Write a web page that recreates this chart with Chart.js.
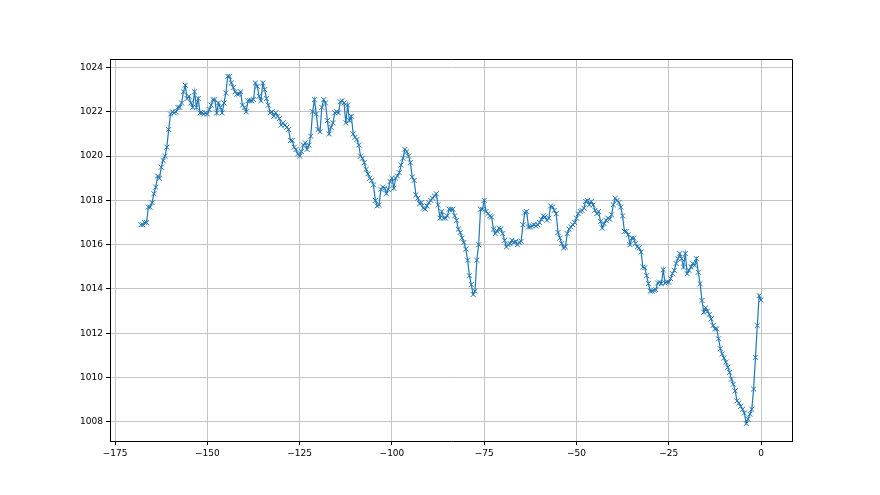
<!DOCTYPE html>
<html>
<head>
<meta charset="utf-8">
<script src="https://cdn.jsdelivr.net/npm/chart.js@4.4.1/dist/chart.umd.min.js"></script>
<style>
	html, body { margin: 0; padding: 0; background: #fff; }
	canvas { display: block; }
</style>
</head>
<body>
<canvas id="chartPressure" width="880" height="495"></canvas>
<script>
'use strict'

// readings every half hour, over the last 168 hours
const firstHour = -168
const hourStep = 0.5

const pressure = [
	1016.9, 1016.9, 1017.0, 1017.0, 1017.7, 1017.7, 1017.9, 1018.3, 1018.6, 1019.1,
	1019.0, 1019.5, 1019.8, 1020.0, 1020.4, 1021.2, 1021.9, 1022.0, 1021.95, 1022.0,
	1022.2, 1022.2, 1022.4, 1022.9, 1023.2, 1022.6, 1022.7, 1022.4, 1022.2, 1022.9,
	1022.2, 1022.6, 1021.95, 1021.95, 1021.9, 1021.95, 1021.9, 1022.1, 1022.3, 1022.55,
	1022.55, 1021.95, 1022.4, 1022.2, 1021.95, 1022.4, 1022.85, 1023.6, 1023.6, 1023.3,
	1023.1, 1022.9, 1022.8, 1022.8, 1022.9, 1022.3, 1022.2, 1022.0, 1022.5, 1022.5,
	1022.5, 1022.55, 1023.3, 1023.15, 1022.7,
	1022.5, 1023.3, 1023.0, 1022.6, 1022.3, 1021.95, 1022.0, 1021.8, 1021.95, 1021.8,
	1021.7, 1021.4, 1021.5, 1021.4, 1021.3, 1021.2, 1020.7, 1020.7, 1020.4, 1020.3,
	1020.1, 1020.0, 1020.2, 1020.5, 1020.6, 1020.3, 1020.5, 1020.9, 1022.0, 1022.55,
	1021.9, 1021.2, 1021.1, 1022.2, 1022.55, 1022.4, 1021.6, 1021.0, 1021.3, 1021.5,
	1021.95, 1022.0, 1021.95, 1022.45, 1022.5, 1022.4, 1021.5, 1022.3, 1021.6, 1021.8,
	1021.0, 1020.85, 1020.75, 1020.5, 1020.0, 1019.9, 1019.7, 1019.4, 1019.2, 1019.0,
	1018.9, 1018.7, 1018.0, 1017.75, 1017.8, 1018.5, 1018.6, 1018.55, 1018.3, 1018.5,
	1018.85, 1019.0, 1018.55, 1019.0, 1019.1, 1019.25, 1019.6, 1019.9, 1020.3, 1020.2,
	1020.0, 1019.7, 1019.05, 1018.9, 1018.25, 1018.1, 1017.85, 1017.9, 1017.65, 1017.6,
	1017.75, 1017.9, 1018.0, 1018.1, 1018.2, 1018.3, 1017.8, 1017.2, 1017.5, 1017.2,
	1017.2, 1017.3, 1017.6, 1017.6, 1017.6, 1017.3, 1017.1, 1016.7, 1016.55, 1016.3,
	1016.1, 1015.8, 1015.3, 1014.6, 1014.2, 1013.75, 1013.9, 1015.3, 1016.0, 1017.6,
	1017.6, 1018.0, 1017.5, 1017.4, 1017.3, 1017.25, 1016.7, 1016.5, 1016.6, 1016.75,
	1016.7, 1016.5, 1016.2, 1015.9, 1016.0, 1016.05, 1016.2, 1016.1, 1016.15, 1016.0,
	1016.1, 1016.15, 1016.9, 1017.45, 1017.5, 1016.8, 1016.8, 1016.85, 1016.9, 1016.85,
	1016.9, 1017.0, 1017.15, 1017.3, 1017.25, 1017.1, 1017.2, 1017.75, 1017.7, 1017.55,
	1017.4, 1016.55, 1016.3, 1016.05, 1015.85, 1015.9, 1016.5, 1016.7, 1016.8, 1016.9,
	1017.0, 1017.2, 1017.4, 1017.5, 1017.55, 1017.65, 1017.95, 1018.0, 1017.8, 1017.95,
	1017.8, 1017.55, 1017.4, 1017.5, 1017.05, 1016.75, 1016.95, 1017.1, 1017.2, 1017.15,
	1017.35, 1017.8, 1018.1, 1018.0, 1017.9, 1017.7, 1017.3, 1016.6, 1016.6, 1016.45,
	1016.0, 1016.3, 1016.3, 1016.05, 1015.9, 1015.85,
	1015.67, 1014.99, 1014.96, 1014.6, 1014.24, 1013.9, 1013.9, 1013.94, 1013.97, 1014.27,
	1014.31, 1014.24, 1014.87, 1014.27, 1014.31, 1014.31, 1014.47, 1014.69, 1014.84, 1015.15,
	1015.37, 1015.6, 1015.37, 1014.99, 1015.6, 1014.69, 1014.84, 1014.99, 1015.15, 1015.07,
	1015.37, 1014.75, 1014.24,
	1013.48, 1012.95, 1013.15, 1013.0, 1012.85, 1012.65, 1012.35, 1012.2, 1012.2, 1011.75,
	1011.3, 1011.07, 1010.88, 1010.69, 1010.46, 1010.23, 1009.93, 1009.7, 1009.4, 1008.95,
	1008.85, 1008.7, 1008.57, 1008.4, 1007.92, 1008.12, 1008.35, 1008.57, 1009.48, 1010.91,
	1012.35, 1013.7, 1013.5,
]

const xTicks = [-175, -150, -125, -100, -75, -50, -25, 0]
const yTicks = [1008, 1010, 1012, 1014, 1016, 1018, 1020, 1022, 1024]

const hours = pressure.map((_, i) => firstHour + i * hourStep)
const points = hours.map((h, i) => ({ x: h, y: pressure[i] }))

// same 5% margins as matplotlib's autoscale
function padded(values) {
	const lo = Math.min(...values)
	const hi = Math.max(...values)
	const pad = (hi - lo) * 0.05
	return [lo - pad, hi + pad]
}
const [xMin, xMax] = padded(hours)
const [yMin, yMax] = padded(pressure)

// plain numbers with a real minus sign, no thousands separator
const tickLabel = (v) => String(v).replace('-', '\u2212')

Chart.defaults.font.family = 'DejaVu Sans'
Chart.defaults.font.size = 9
Chart.defaults.color = '#000'

// top and right spines
const frame = {
	id: 'frame',
	afterDraw(chart) {
		const { ctx, chartArea: a } = chart
		ctx.save()
		ctx.strokeStyle = '#000'
		ctx.lineWidth = 1
		ctx.beginPath()
		ctx.moveTo(Math.round(a.left), Math.round(a.top) + 0.5)
		ctx.lineTo(Math.round(a.right) + 0.5, Math.round(a.top) + 0.5)
		ctx.lineTo(Math.round(a.right) + 0.5, Math.round(a.bottom))
		ctx.stroke()
		ctx.restore()
	},
}

const gridStyle = {
	color: '#c4c4c4',
	lineWidth: 1,
	drawTicks: true,
	tickLength: 4,
	tickColor: '#000',
}

new Chart(document.getElementById('chartPressure'), {
	type: 'line',
	data: {
		datasets: [
			{
				data: points,
				borderColor: '#1f77b4',
				borderWidth: 1.2,
				pointStyle: 'crossRot',
				pointRadius: 3.5,
				pointBorderWidth: 1,
				pointBorderColor: '#1f77b4',
				pointBackgroundColor: '#1f77b4',
				tension: 0,
			},
		],
	},
	options: {
		responsive: false,
		animation: false,
		events: [],
		layout: {
			padding: { top: 59, right: 88, left: 0, bottom: 0 },
		},
		plugins: {
			legend: { display: false },
			tooltip: { enabled: false },
		},
		scales: {
			x: {
				type: 'linear',
				min: xMin,
				max: xMax,
				afterBuildTicks: (s) => { s.ticks = xTicks.map((v) => ({ value: v })) },
				afterFit: (s) => { s.height = 54 },
				grid: gridStyle,
				border: { color: '#000', width: 1 },
				ticks: { padding: 3, maxRotation: 0, autoSkip: false, callback: tickLabel },
			},
			y: {
				type: 'linear',
				min: yMin,
				max: yMax,
				afterBuildTicks: (s) => { s.ticks = yTicks.map((v) => ({ value: v })) },
				afterFit: (s) => { s.width = 110 },
				grid: gridStyle,
				border: { color: '#000', width: 1 },
				ticks: { padding: 3, autoSkip: false, callback: tickLabel },
			},
		},
	},
	plugins: [frame],
})
</script>
</body>
</html>
